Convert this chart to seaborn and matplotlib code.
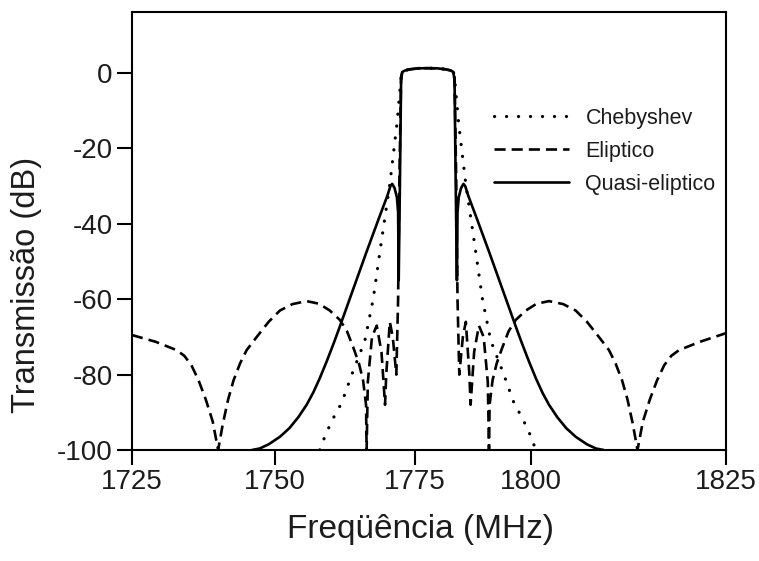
import matplotlib
matplotlib.use("Agg")
import matplotlib.pyplot as plt
import pandas as pd
import seaborn as sns

# ---------------- data ----------------
# shared passband (between the band edges)
pass_f = [1770.5, 1771.0, 1771.8, 1773.2, 1774.8, 1776.4, 1777.8, 1778.6, 1779.1]
pass_db = [0.3, 0.7, 1.0, 1.25, 1.3, 1.25, 1.0, 0.7, 0.3]

# Chebyshev
cheb_left_f = [1756.6, 1757.7, 1758.9, 1760.3, 1762.0, 1764.2, 1765.6, 1767.0,
               1768.4, 1769.0, 1769.6, 1770.0, 1770.3]
cheb_left_db = [-100, -95.5, -91.5, -87.5, -80, -71, -60, -44.5,
                -29.5, -21.5, -13.5, -6.5, -1]
cheb_right_f = [1779.3, 1779.6, 1780.0, 1780.6, 1781.2, 1782.6, 1784.0, 1785.4,
                1787.6, 1789.3, 1790.7, 1791.9, 1793.0]
cheb_right_db = [-1, -6.5, -13.5, -21.5, -29.5, -44.5, -60, -71,
                 -80, -87.5, -91.5, -95.5, -100]

# Eliptico
elip_left_f = [1725.0, 1729.0, 1732.5, 1733.8, 1735.0, 1736.2, 1737.4, 1738.6,
               1739.5, 1740.3, 1741.2, 1742.1, 1743.2, 1744.3, 1746.0, 1748.0,
               1749.9, 1752.0, 1754.4, 1756.5, 1758.3, 1760.0, 1761.2, 1762.3,
               1763.2, 1763.9, 1764.4, 1764.5, 1764.7, 1765.4, 1766.2, 1767.0,
               1767.6, 1767.8, 1768.4, 1768.9, 1769.5, 1769.8, 1770.0, 1770.3]
elip_left_db = [-69.5, -71.3, -73.5, -75, -77.5, -81.5, -86.5, -92.5,
                -100, -93, -86.5, -81.5, -77, -73.5, -70, -66,
                -63, -61.3, -60.5, -61.2, -63, -65.5, -68.5, -73,
                -77, -81.5, -88, -100, -82, -70, -67, -74,
                -88, -80, -66, -70, -80, -60, -30, -1]
elip_right_f = [1779.3, 1779.6, 1779.8, 1780.1, 1780.7, 1781.2, 1781.8, 1782.0,
                1782.6, 1783.4, 1784.2, 1784.9, 1785.1, 1785.2, 1785.7, 1786.4,
                1787.3, 1788.4, 1789.6, 1791.3, 1793.1, 1795.2, 1797.6, 1799.7,
                1801.6, 1803.6, 1805.3, 1806.4, 1807.5, 1808.4, 1809.3, 1810.1,
                1811.0, 1812.2, 1813.4, 1814.6, 1815.8, 1817.1, 1820.6, 1825.0]
elip_right_db = [-1, -30, -60, -80, -70, -66, -80, -88,
                 -74, -67, -70, -82, -100, -88, -81.5, -77,
                 -73, -68.5, -65.5, -63, -61.2, -60.5, -61.3, -63,
                 -66, -70, -73.5, -77, -81.5, -86.5, -93, -100,
                 -92.5, -86.5, -81.5, -77.5, -75, -73.5, -71.3, -69]

# Quasi-eliptico
quasi_left_f = [1745.2, 1746.5, 1748.0, 1749.9, 1751.5, 1753.0, 1754.4, 1755.5,
                1756.6, 1757.8, 1759.0, 1760.0, 1762.2, 1764.4, 1766.5, 1768.0,
                1768.5, 1768.8, 1769.2, 1769.6, 1769.8, 1769.9, 1770.1, 1770.3]
quasi_left_db = [-100, -99.6, -98.5, -96.5, -94.2, -91.3, -88.0, -84.8,
                 -81.0, -76.4, -71.5, -67.2, -57.5, -47.8, -38.8, -32.5,
                 -30, -29.4, -30.5, -33, -37, -55, -30, -2]
quasi_right_f = [1779.3, 1779.5, 1779.7, 1779.8, 1780.0, 1780.4, 1780.8, 1781.1,
                 1781.6, 1783.1, 1785.2, 1787.4, 1789.6, 1790.6, 1791.8, 1793.0,
                 1794.1, 1795.2, 1796.6, 1798.1, 1799.7, 1801.6, 1803.1, 1804.4]
quasi_right_db = [-2, -30, -55, -37, -33, -30.5, -29.4, -30,
                  -32.5, -38.8, -47.8, -57.5, -67.2, -71.5, -76.4, -81.0,
                  -84.8, -88.0, -91.3, -94.2, -96.5, -98.5, -99.6, -100]

series_names = ["Chebyshev", "Eliptico", "Quasi-eliptico"]

xtick_labels = ["1725", "1750", "1775", "1800", "1825"]
ytick_values = [0, -20, -40, -60, -80, -100]
ytick_labels = ["0", "-20", "-40", "-60", "-80", "-100"]

# ---------------- build long tables ----------------
def build(name, lf, ldb, rf, rdb):
    return pd.DataFrame({"freq": lf + pass_f + rf,
                         "db": ldb + pass_db + rdb,
                         "filtro": name})

frames = {
    "Chebyshev": build("Chebyshev", cheb_left_f, cheb_left_db, cheb_right_f, cheb_right_db),
    "Eliptico": build("Eliptico", elip_left_f, elip_left_db, elip_right_f, elip_right_db),
    "Quasi-eliptico": build("Quasi-eliptico", quasi_left_f, quasi_left_db, quasi_right_f, quasi_right_db),
}

# ---------------- style ----------------
sns.set_style("ticks")
plt.rcParams["font.family"] = ["Liberation Sans", "DejaVu Sans"]
TXT = "#1c1c1c"

W, H = 759, 561
fig = plt.figure(figsize=(W / 100, H / 100), dpi=100)
ax = fig.add_axes([132 / W, 1 - 450 / H, 594 / W, 438 / H])

styles = {
    "Chebyshev": dict(lw=2.3, linestyle=(0, (0.05, 3.7)), dash_capstyle="round"),
    "Eliptico": dict(lw=1.9, linestyle=(0, (4.2, 2.3)), dash_capstyle="butt"),
    "Quasi-eliptico": dict(lw=1.9, linestyle="-"),
}

for name in series_names:
    d = frames[name]
    sns.lineplot(data=d, x="freq", y="db", ax=ax, color="black",
                 sort=False, estimator=None, label=name, **styles[name])

ax.set_xlim(1725, 1825)
ax.set_ylim(-100, 16.2)

# tick marks placed where the reference draws them
xtick_pos = [1725, 1749.07, 1772.64, 1792.17, 1825]
ax.set_xticks(xtick_pos, xtick_labels)
ax.set_yticks(ytick_values, ytick_labels)
ax.tick_params(direction="out", length=11, width=1.5, labelsize=20,
               pad=3, colors="black", labelcolor=TXT)

for s in ax.spines.values():
    s.set_linewidth(1.5)
    s.set_color("black")

ax.set_xlabel("Freqüência (MHz)", fontsize=24, color=TXT)
ax.set_ylabel("Transmissão (dB)", fontsize=23.5, color=TXT)
ax.xaxis.set_label_coords(0.4865, -0.145)
ax.yaxis.set_label_coords(-0.152, 0.377)

handles, labels = ax.get_legend_handles_labels()
ax.legend(handles, labels, loc="upper left",
          bbox_to_anchor=(494 / W, 1 - 108 / H), bbox_transform=fig.transFigure,
          frameon=False, fontsize=15.5, handlelength=3.5, handletextpad=0.75,
          labelspacing=0.55, borderpad=0, borderaxespad=0, labelcolor=TXT)

fig.savefig("out.png", dpi=100)
